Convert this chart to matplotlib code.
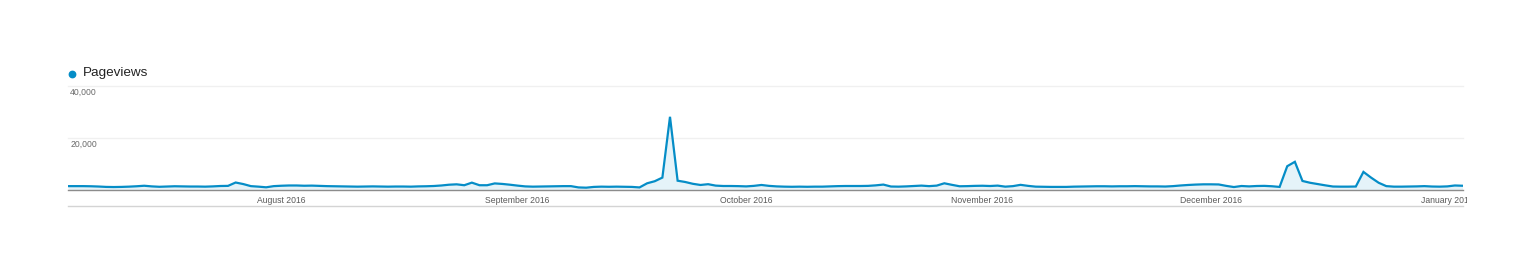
from __future__ import annotations

import matplotlib

matplotlib.use("Agg")
import matplotlib.dates as mdates
import matplotlib.pyplot as plt
import pandas as pd
from matplotlib.lines import Line2D
from matplotlib.transforms import Bbox


START_DATE = "2016-07-04"
SERIES_LABEL = "Pageviews"

# daily pageviews, one list per stretch
JULY = [
    1300, 1300, 1300, 1250, 1150, 1000, 950, 1000, 1100, 1250,
    1450, 1200, 1050, 1150, 1250, 1200, 1150, 1150, 1100, 1200,
    1350, 1400, 2700, 2100, 1300, 1100, 850, 1300,
]
AUGUST = [
    1450, 1550, 1550, 1450, 1500, 1400, 1300, 1250, 1200, 1150,
    1100, 1150, 1200, 1150, 1100, 1150, 1150, 1100, 1200, 1250,
    1350, 1550, 1850, 2000, 1650, 2650, 1650, 1650, 2350, 2150,
    1850,
]
SEPTEMBER = [
    1500, 1200, 1100, 1150, 1200, 1250, 1300, 1300, 800, 700,
    1000, 1100, 1050, 1100, 1050, 1000, 800, 2400, 3200, 4600,
    28100, 3400, 2900, 2200, 1750, 2050, 1500, 1350, 1350, 1300,
]
OCTOBER = [
    1200, 1400, 1750, 1400, 1200, 1100, 1050, 1100, 1050, 1100,
    1100, 1200, 1300, 1350, 1350, 1350, 1400, 1600, 1900, 1150,
    1100, 1200, 1350, 1500, 1300, 1500, 2400, 1800, 1250, 1300,
    1400,
]
NOVEMBER = [
    1450, 1350, 1500, 1100, 1300, 1800, 1400, 1100, 1050, 1000,
    1000, 1000, 1100, 1150, 1200, 1250, 1250, 1200, 1250, 1250,
    1300, 1250, 1200, 1200, 1150, 1300, 1550, 1750, 1900, 2000,
]
DECEMBER = [
    2000, 1950, 1400, 950, 1350, 1200, 1350, 1400, 1250, 1000,
    9000, 10700, 3300, 2600, 2100, 1600, 1150, 1100, 1100, 1150,
    6800, 4600, 2600, 1300, 1100, 1100, 1150, 1200, 1300, 1150,
    1100,
]
JANUARY = [1200, 1550, 1450]

Y_TICKS = [20000, 40000]
Y_TICK_LABELS = ["20,000", "40,000"]
MONTH_TICKS = ["2016-08-01", "2016-09-01", "2016-10-01", "2016-11-01",
               "2016-12-01", "2017-01-01"]

LINE_COLOR = "#058DC7"
FONT = ["Liberation Sans", "DejaVu Sans"]


def main() -> None:
    values = JULY + AUGUST + SEPTEMBER + OCTOBER + NOVEMBER + DECEMBER + JANUARY
    dates = pd.date_range(START_DATE, periods=len(values), freq="D")

    plt.rcParams["font.family"] = FONT
    W, H = 1536, 274
    fig = plt.figure(figsize=(W / 100, H / 100), dpi=100)
    left, right = 68, 1462.5
    top, base = 86, 189.5
    ax = fig.add_axes([left / W, 1 - base / H, (right - left) / W, (base - top) / H])

    ax.fill_between(dates, values, color=LINE_COLOR, alpha=0.1, lw=0, zorder=2)
    ax.plot(dates, values, color=LINE_COLOR, lw=1.6, zorder=4,
            solid_joinstyle="miter")

    ax.set_xlim(dates[0], dates[-1])
    ax.set_ylim(0, 40000)
    for s in ax.spines.values():
        s.set_visible(False)

    for yv, lab in zip(Y_TICKS, Y_TICK_LABELS):
        ax.axhline(yv, color="#f0f0f0", lw=1, zorder=1, clip_on=False)
        ax.annotate(lab, xy=(0, yv), xycoords=("axes fraction", "data"),
                    xytext=(1.5, -4.8), textcoords="offset points",
                    va="center", ha="left", fontsize=6.2, color="#6a6a6a")
    ax.axhline(0, color="#8c8c8c", lw=1, zorder=3, clip_on=False)
    ax.set_yticks([])

    # thin rule under the date labels
    ax.add_line(Line2D([0, 1], [-16.5 / (base - top)] * 2, transform=ax.transAxes,
                       color="#d4d4d4", lw=1, clip_on=False))

    ticks = pd.to_datetime(MONTH_TICKS)
    ax.set_xticks(ticks)
    ax.xaxis.set_major_formatter(mdates.DateFormatter("%B %Y"))
    ax.tick_params(axis="x", length=0, pad=4.5, labelsize=6.2, labelcolor="#5a5a5a")

    # the last date label is cut at the chart edge
    clip = Bbox.from_extents(0, 0, 1467, H)
    for lab in ax.get_xticklabels():
        lab.set_clip_on(True)
        lab.set_clip_box(clip)

    fig.add_artist(Line2D([72 / W], [1 - 74 / H], marker="o", markersize=4.6,
                          color=LINE_COLOR, lw=0, transform=fig.transFigure))
    fig.text(83 / W, 1 - 73.5 / H, SERIES_LABEL, fontsize=9.7, color="#222222",
             va="center", ha="left")

    fig.savefig("out.png", dpi=100)
    plt.close(fig)


if __name__ == "__main__":
    main()
